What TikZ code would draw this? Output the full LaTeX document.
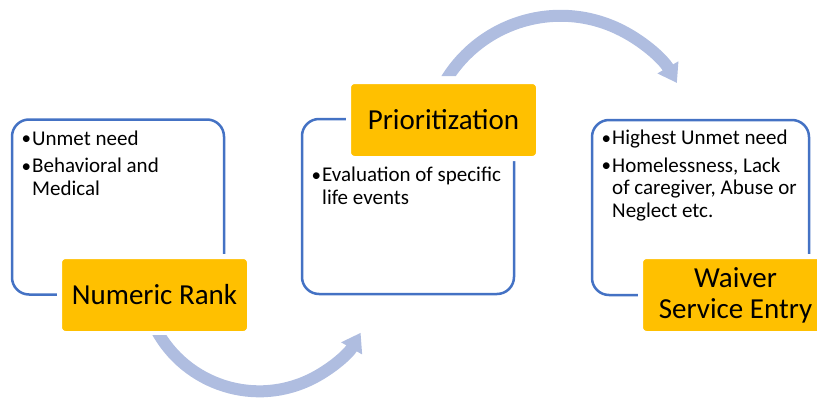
\documentclass[tikz,border=0pt]{standalone}
\usepackage{fontspec}
\setmainfont{Carlito}
\usetikzlibrary{arrows.meta}
\definecolor{boxblue}{HTML}{4472C4}
\definecolor{rankorange}{HTML}{FFC000}
\definecolor{arrowblue}{RGB}{175,189,224}
\newcommand{\bitem}[1]{\par\hangindent=10.5pt\hangafter=1\noindent\makebox[10.5pt][l]{\raisebox{0.3pt}{\fontsize{19}{19}\selectfont•}}#1}
\newcommand{\bullist}[1]{\vtop{\hsize=260pt\fontsize{21}{22.5}\selectfont\parskip=5.2pt\parindent=0pt #1}}
\tikzset{
  bluebox/.style={draw=boxblue, line width=2.5pt, rounded corners=17pt, fill=white, minimum width=212pt, minimum height=175pt, inner sep=0pt},
  rankbox/.style={fill=rankorange, draw=white, line width=5pt, rounded corners=6pt, minimum width=190pt, minimum height=77pt, inner sep=0pt, align=center, font=\fontsize{29}{31}\selectfont},
  textlist/.style={anchor=base west, inner sep=0pt},
  bigarrow/.style={draw=arrowblue, line width=12pt, -{Triangle[width=23pt,length=18pt]}}
}
\begin{document}
\begin{tikzpicture}[x=1pt,y=1pt]
\useasboundingbox (0,0) rectangle (817,400);
% step boxes
\node[bluebox] (b1) at (118,193) {};
\node[bluebox] (b2) at (408,193.5) {};
\node[bluebox, minimum width=217pt] (b3) at (700.5,192.5) {};
% texts
\node[textlist] (t1) at (21.5,255) {\bullist{\bitem{Unmet need}\bitem{Behavioral and\newline Medical}}};
\node[textlist] (t2) at (311.5,218.3) {\bullist{\bitem{Evaluation of specific\newline life events}}};
\node[textlist] (t3) at (601.5,255.7) {\bullist{\bitem{Highest Unmet need}\bitem{Homelessness, Lack\newline of caregiver, Abuse or\newline Neglect etc.}}};
% orange labels
\node[rankbox] (o1) at (154.5,105) {Numeric Rank};
\node[rankbox] (o2) at (443.5,280) {Prioritization};
\node[rankbox] (o3) at (735.5,105) {Waiver\\Service Entry};
% curved arrows
\coordinate (c1) at (259.3,125.7);
\coordinate (c2) at (560.6,249.9);
\begin{scope}
  \clip (0,0) rectangle (817,65) (220,0) rectangle (817,400);
  \draw[bigarrow] (c1) ++(205:117) arc[start angle=205, end angle=330, radius=117];
\end{scope}
\begin{scope}
  \clip (0,324) rectangle (817,400) (500,0) rectangle (817,400);
  \draw[bigarrow] (c2) ++(155:134.3) arc[start angle=155, end angle=30, radius=134.3];
\end{scope}
\end{tikzpicture}
\end{document}
